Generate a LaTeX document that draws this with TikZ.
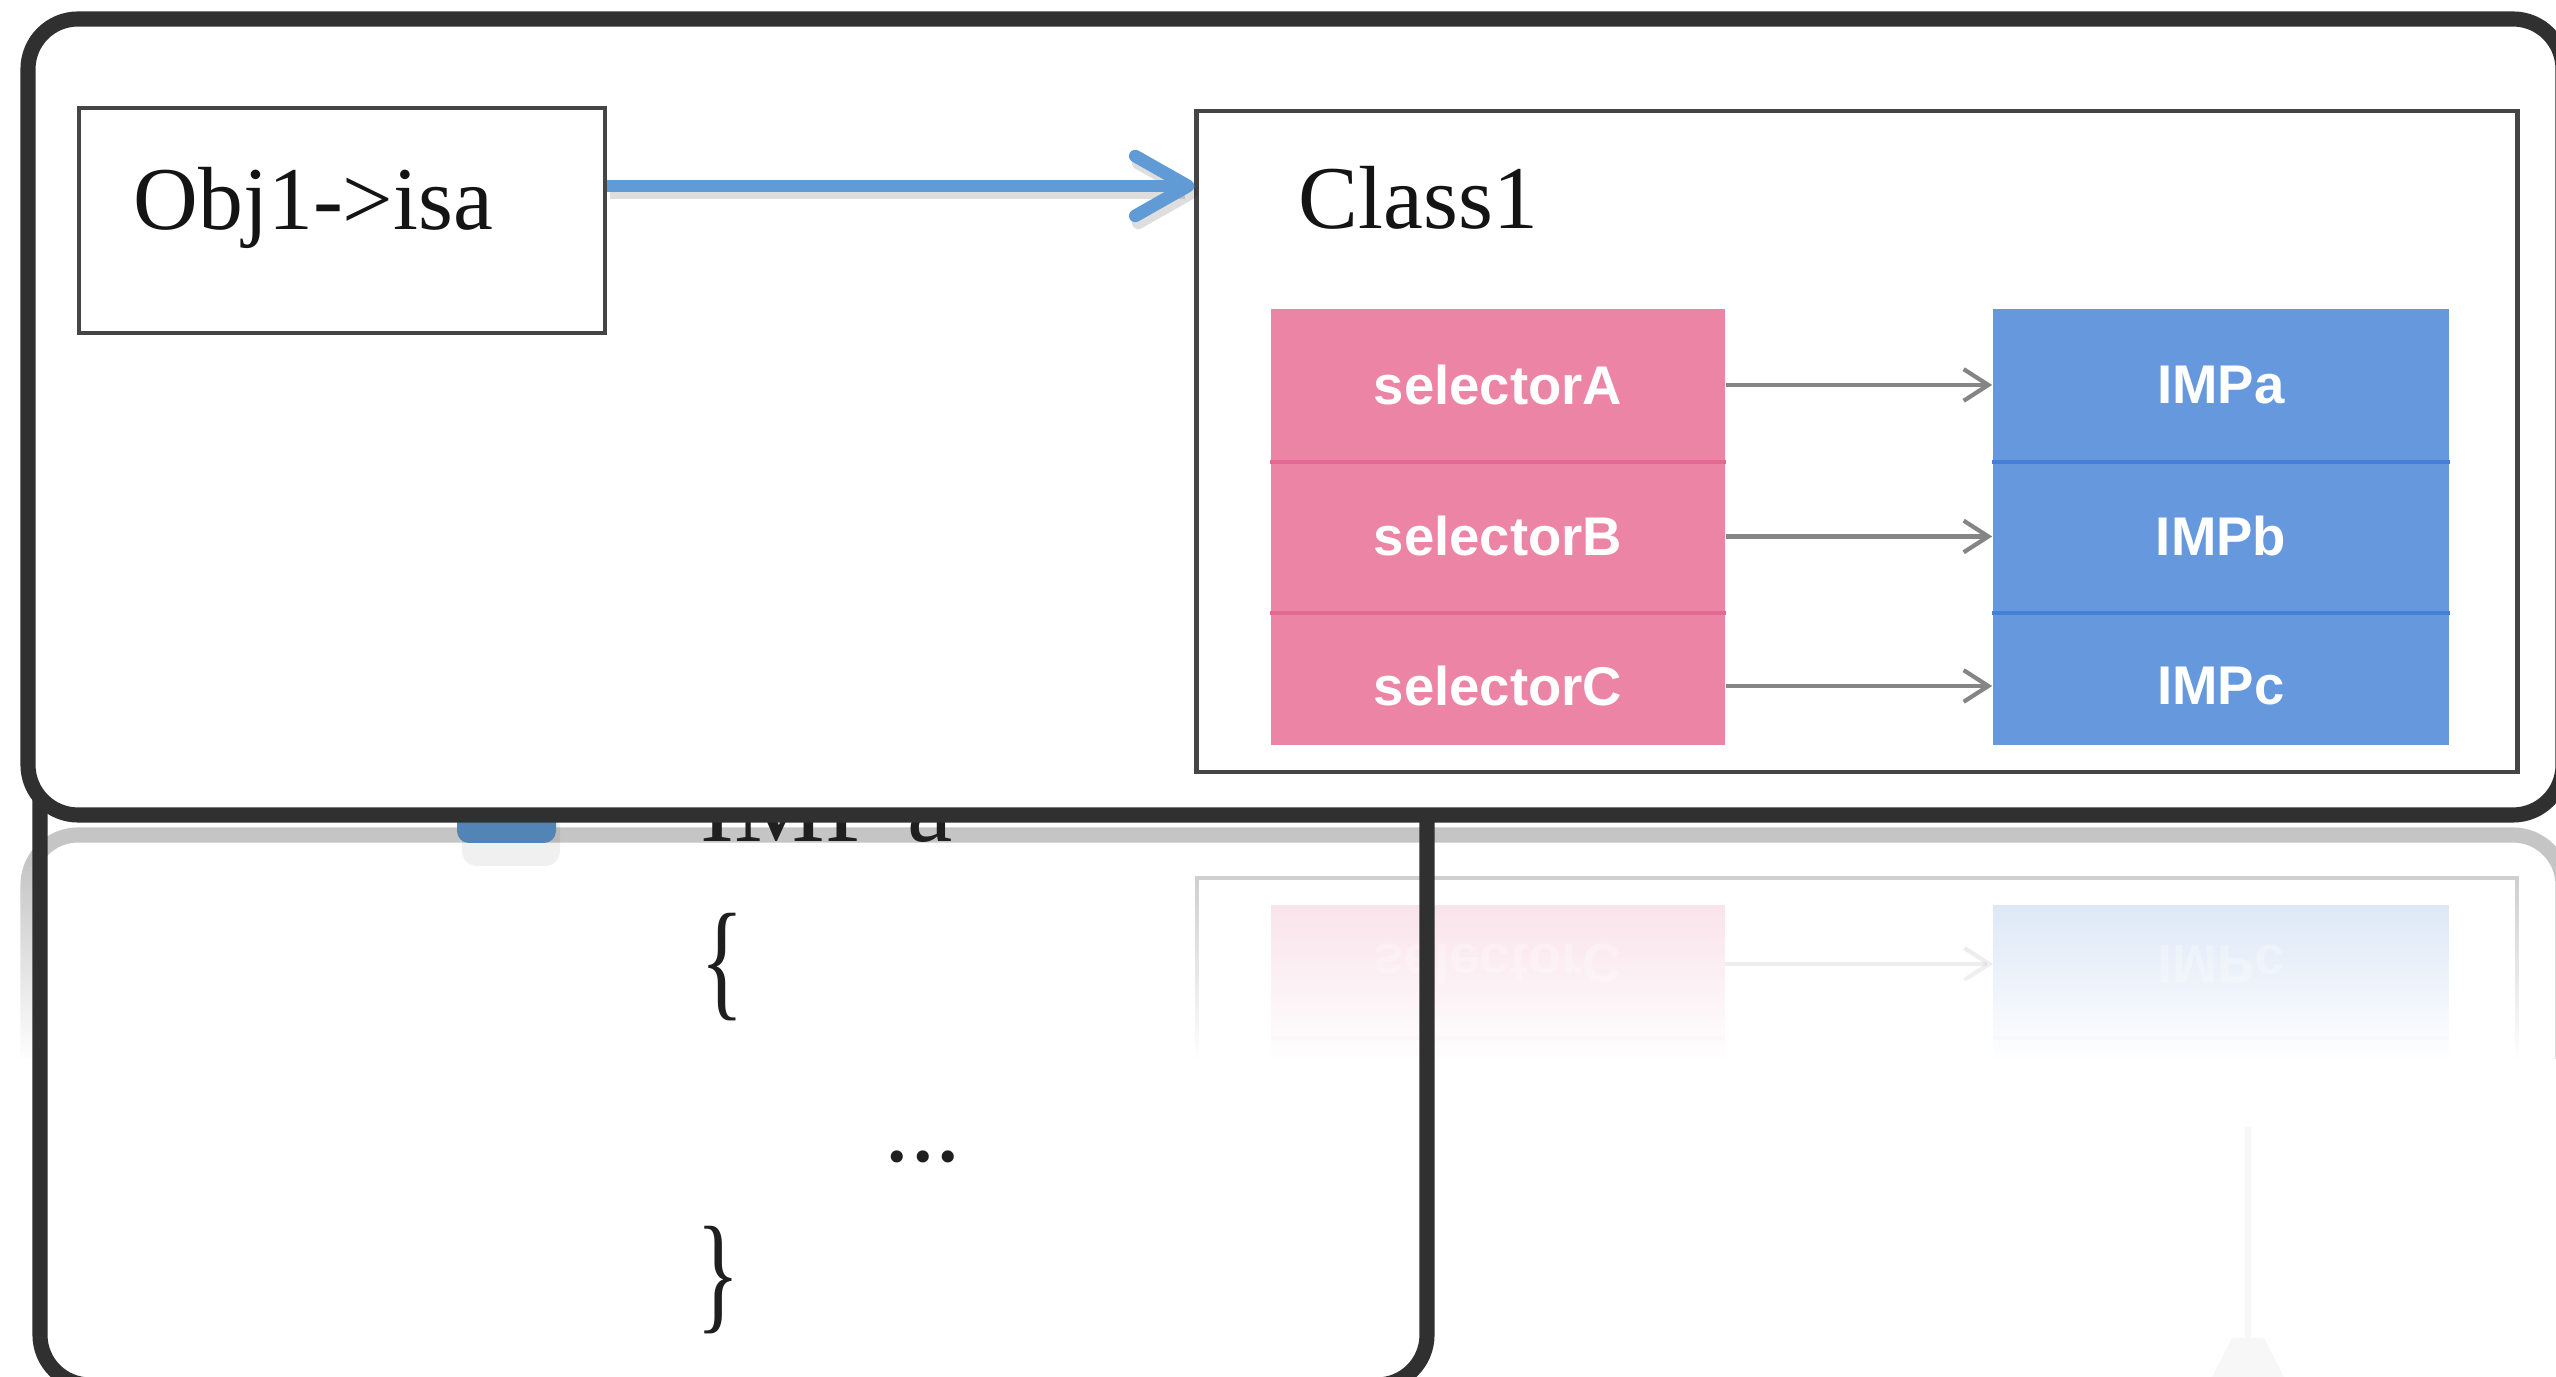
\documentclass[tikz,border=0pt]{standalone}
\usepackage{fontspec}
\setmainfont{Liberation Serif}
\newfontfamily\sansfam{Liberation Sans}
\usepackage{graphicx}
\usetikzlibrary{arrows.meta,fadings}
\definecolor{framec}{HTML}{303030}
\definecolor{boxline}{HTML}{454545}
\definecolor{pinkc}{RGB}{236,132,166}
\definecolor{pinkline}{RGB}{226,105,147}
\definecolor{bluec}{RGB}{102,152,222}
\definecolor{blueline}{RGB}{70,128,214}
\definecolor{arrowblue}{RGB}{96,155,214}
\definecolor{arrowgray}{HTML}{858585}
\tikzfading[name=reflfade, top color=transparent!100, bottom color=transparent!0]
\begin{document}
\begin{tikzpicture}[x=0.01cm,y=-0.01cm,
  frame/.style={draw=framec, line width=4.3pt, rounded corners=0.5cm},
  plainbox/.style={draw=boxline, line width=1.3pt, inner sep=0pt},
  selcell/.style={fill=pinkc, inner sep=0pt, minimum width=4.54cm},
  impcell/.style={fill=bluec, inner sep=0pt, minimum width=4.56cm},
  celltext/.style={text=white, inner sep=0pt, font=\sansfam\bfseries\fontsize{15.5pt}{18pt}\selectfont},
  bigtext/.style={text=black!92, inner sep=0pt, font=\fontsize{25.5pt}{30pt}\selectfont},
  codetext/.style={text=black!88, inner sep=0pt, font=\fontsize{29pt}{34pt}\selectfont},
  grayarrow/.style={draw=arrowgray, line width=1.2pt, -{Straight Barb[length=7pt,width=9pt]}},
  bluearrow/.style={draw=arrowblue, line width=3.6pt, -{Straight Barb[length=15pt,width=17pt,round]}},
]
\useasboundingbox (0,0) rectangle (2556,1377);
\clip (0,0) rectangle (2556,1377);
\fill[white] (0,0) rectangle (2556,1377);

% ---------- reflection of the upper panel ----------
\begin{scope}[shift={(0,1650)}, yscale=-1, opacity=0.28]
  \draw[frame] (28,19) rectangle (2563,815);
  \draw[boxline, line width=1.3pt] (1197,111) rectangle (2517,772);
  \fill[pinkc] (1271,461) rectangle (1725,745);
  \fill[bluec] (1993,461) rectangle (2449,745);
  \draw[pinkline, line width=1.2pt] (1271,612) -- (1725,612);
  \draw[blueline, line width=1.2pt] (1993,612) -- (2449,612);
  \draw[grayarrow] (1725,686) -- (1993,686);
  \node[celltext, transform shape] (rsc) at (1498,686) {selectorC};
  \node[celltext, transform shape] (ric) at (2221,686) {IMPc};
\end{scope}
\fill[white, path fading=reflfade] (0,860) rectangle (2556,1060);
\fill[white] (0,1059) rectangle (2556,1377);

% faint stand
\fill[black!3] (2245,1127) rectangle (2251,1345);
\fill[black!3] (2212,1377) -- (2232,1338) -- (2264,1338) -- (2284,1377) -- cycle;

% ---------- lower panel ----------
\draw[frame] (40,480) rectangle (1427,1385);
\fill[black, opacity=0.06, rounded corners=0.15cm] (462,812) rectangle (560,866);
\fill[arrowblue!85!black, rounded corners=0.12cm] (457,800) rectangle (556,843);
\node[codetext, anchor=base west] (impa) at (700,842) {IMP a};
\node[codetext, font=\fontsize{37pt}{40pt}\selectfont] (lbrace) at (722,967) {\scalebox{0.7}[1]{\{}};
\node[codetext, anchor=base west] (dots) at (884,1162) {...};
\node[codetext, font=\fontsize{37pt}{40pt}\selectfont] (rbrace) at (718,1280) {\scalebox{0.7}[1]{\}}};

% ---------- upper panel ----------
\draw[frame, fill=white] (28,19) rectangle (2563,815);

\node[plainbox, minimum width=5.26cm, minimum height=2.25cm] (obj) at (342,220.5) {};
\node[bigtext, anchor=base west] (objtext) at (133,230) {Obj1->isa};

\node[plainbox, minimum width=13.2cm, minimum height=6.61cm] (cls) at (1857,441.5) {};
\node[bigtext, anchor=base west] (clstext) at (1298,229) {Class1};

% blue arrow with soft shadow
\draw[bluearrow, draw=black, opacity=0.13] ([shift={(0.03cm,-0.07cm)}]obj.east |- 0,186) -- ([shift={(0.03cm,-0.07cm)}]cls.west |- 0,186);
\draw[bluearrow] (obj.east |- 0,186) -- (cls.west |- 0,186);

% selector / IMP columns
\node[selcell, minimum height=1.52cm] (sa) at (1498,385) {};
\node[selcell, minimum height=1.51cm] (sb) at (1498,536.5) {};
\node[selcell, minimum height=1.33cm] (sc) at (1498,678.5) {};
\node[impcell, minimum height=1.52cm] (ia) at (2221,385) {};
\node[impcell, minimum height=1.51cm] (ib) at (2221,536.5) {};
\node[impcell, minimum height=1.33cm] (ic) at (2221,678.5) {};
\draw[pinkline, line width=1.2pt] (sa.south west) -- (sa.south east);
\draw[pinkline, line width=1.2pt] (sb.south west) -- (sb.south east);
\draw[blueline, line width=1.2pt] (ia.south west) -- (ia.south east);
\draw[blueline, line width=1.2pt] (ib.south west) -- (ib.south east);

\node[celltext] (ta) at (sa) {selectorA};
\node[celltext] (tb) at (sb) {selectorB};
\node[celltext] (tc) at (1498,686) {selectorC};
\node[celltext] (tia) at (ia) {IMPa};
\node[celltext] (tib) at (ib) {IMPb};
\node[celltext] (tic) at (2221,686) {IMPc};

\draw[grayarrow] (sa.east) -- (ia.west);
\draw[grayarrow] (sb.east) -- (ib.west);
\draw[grayarrow] ([yshift=-0.075cm]sc.east) -- ([yshift=-0.075cm]ic.west);
\end{tikzpicture}
\end{document}
